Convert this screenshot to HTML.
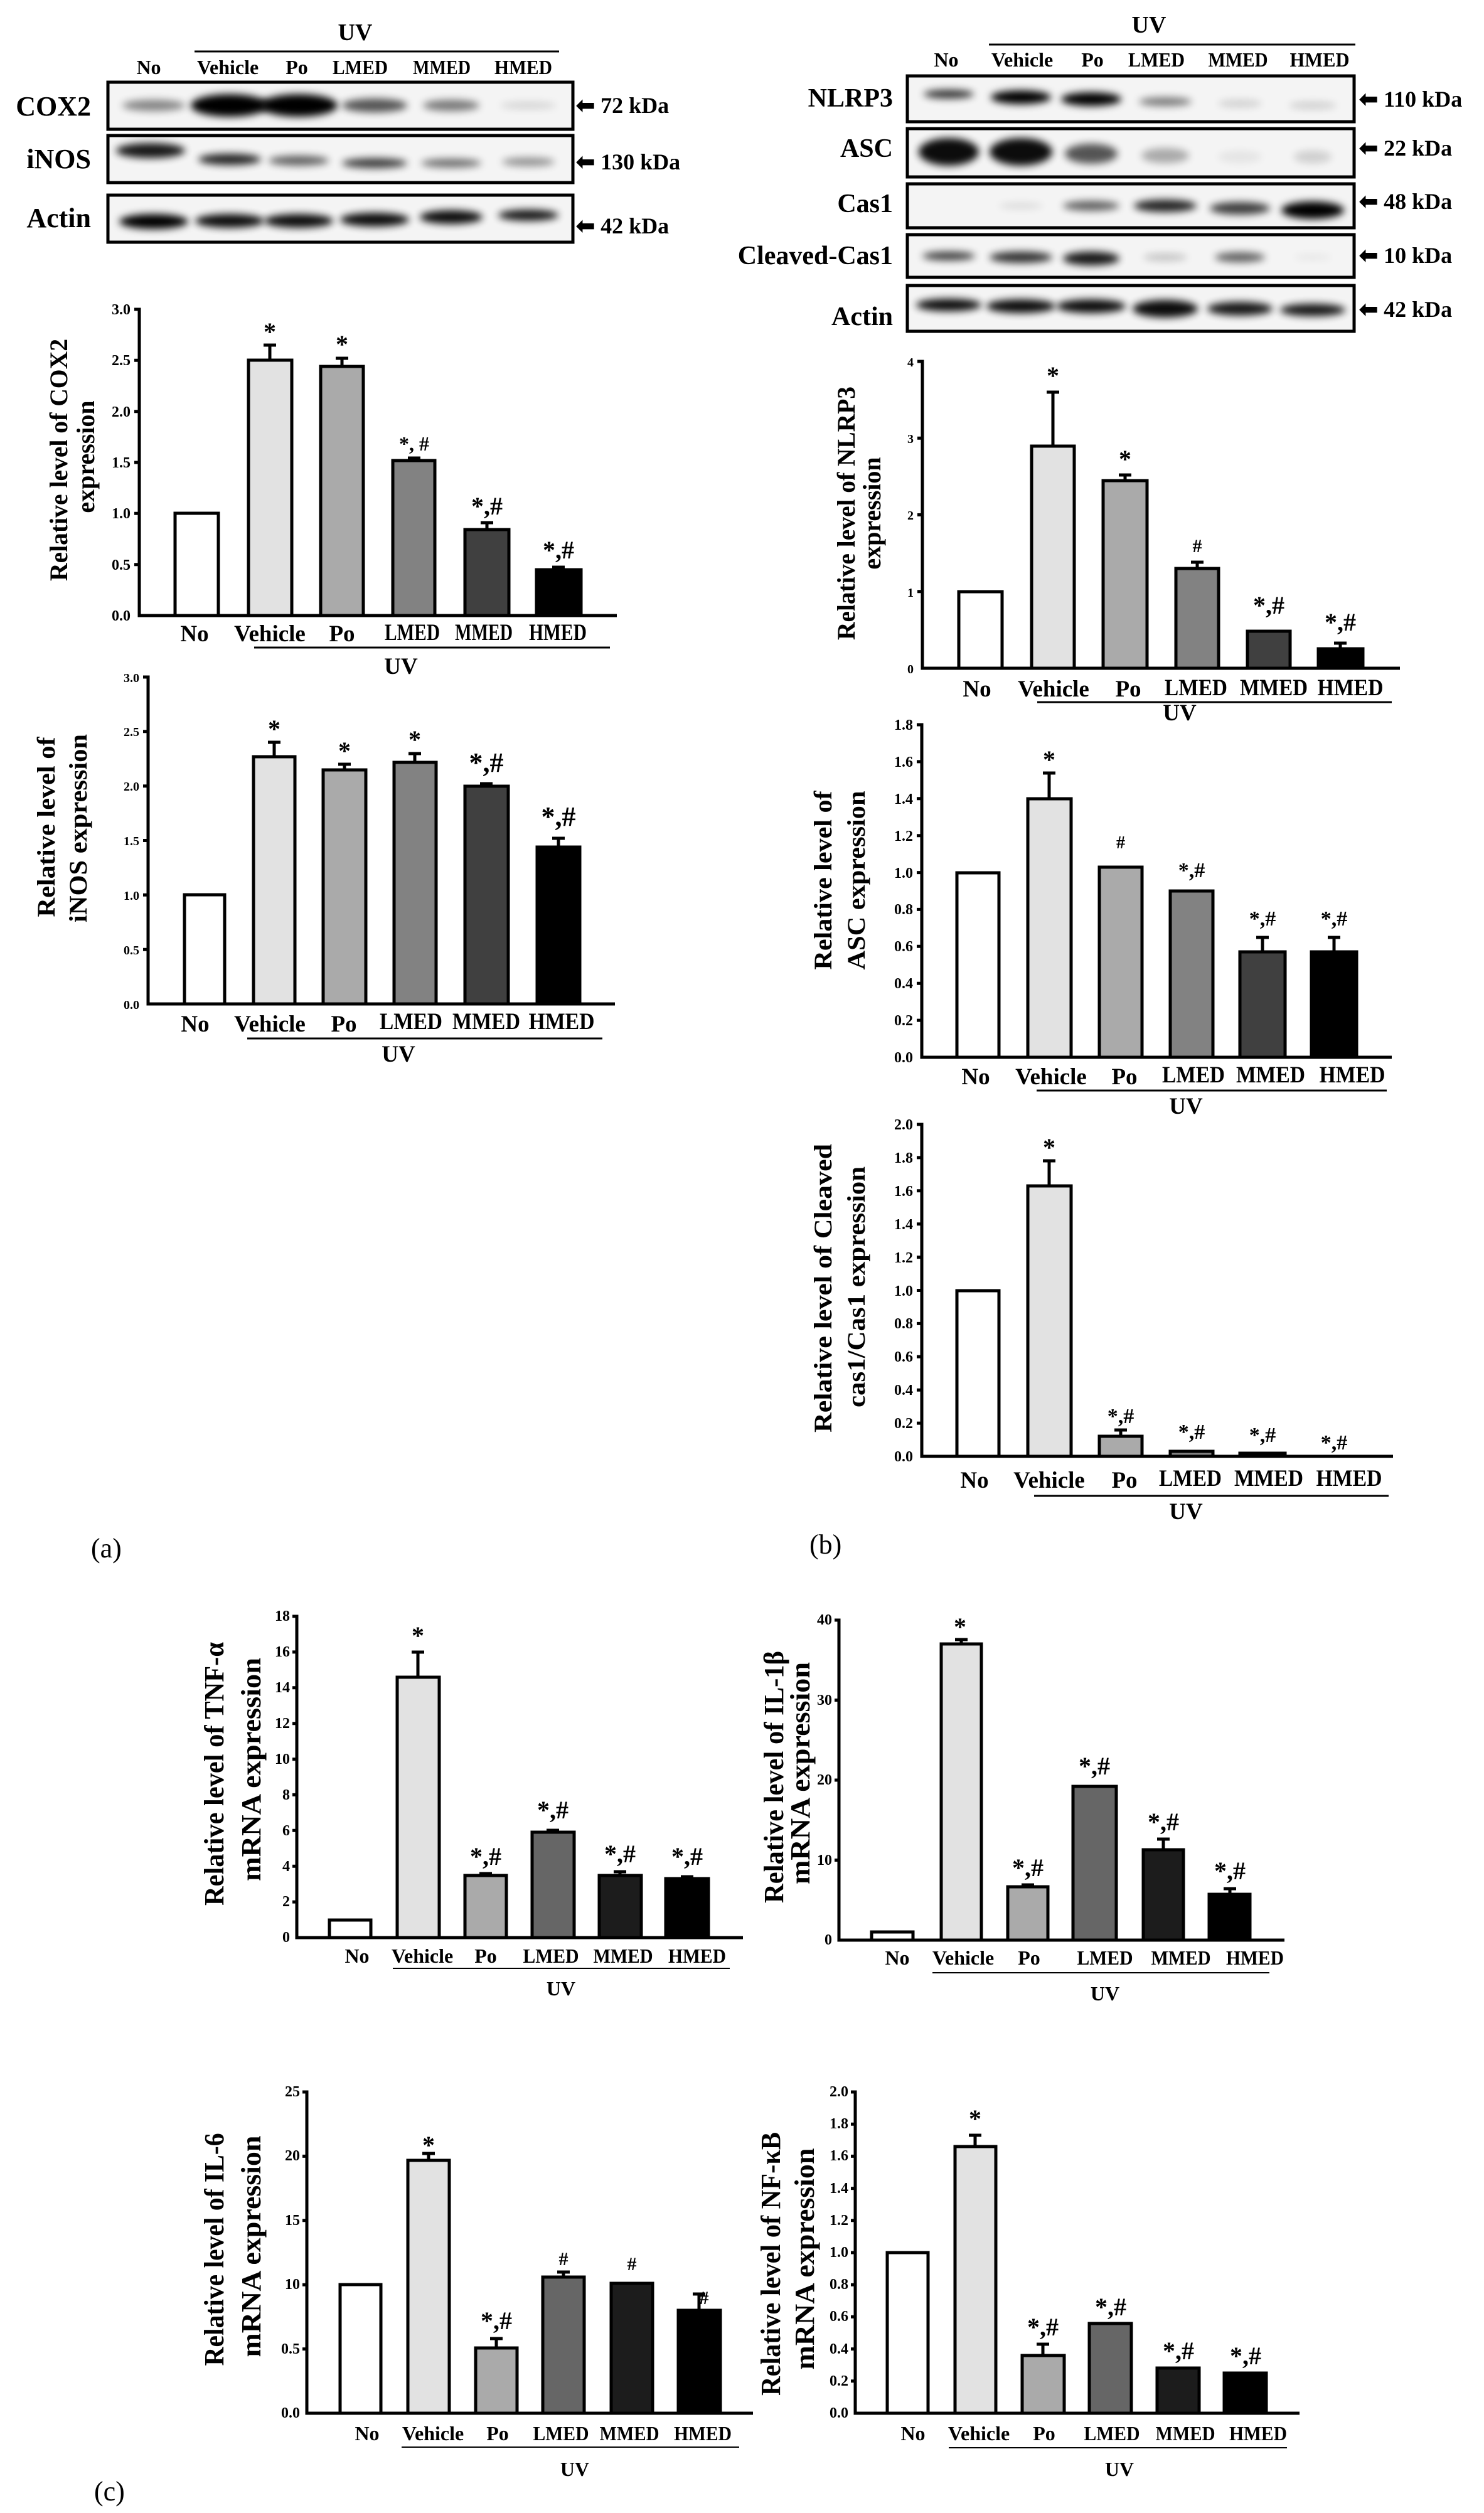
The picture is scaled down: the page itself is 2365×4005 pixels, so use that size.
<!DOCTYPE html>
<html><head><meta charset="utf-8">
<style>
html,body{margin:0;padding:0;background:#fff;}
svg{display:block;}
text{font-family:"Liberation Serif",serif;font-weight:bold;fill:#000;}
.tk{font-size:24px;text-anchor:end;}
.xl{font-size:37px;text-anchor:middle;}
.an{font-size:40px;text-anchor:middle;}
.yl{font-size:40px;text-anchor:middle;}
.bl{font-size:44px;text-anchor:end;}
.ln{font-size:32px;text-anchor:middle;}
.kd{font-size:36px;}
.ax{fill:none;stroke:#000;stroke-width:5;}
.bar{stroke:#000;stroke-width:5;}
.eb{stroke:#000;stroke-width:5;fill:none;}
.c0{fill:#fff}.c1{fill:#e2e2e2}.c2{fill:#aaa}.c3{fill:#828282}.c4{fill:#404040}.c5{fill:#000}
.d3{fill:#666}.d4{fill:#1c1c1c}
.box{fill:#f4f4f4;stroke:#000;stroke-width:5;}
.band{fill:#000;filter:url(#bl);}
</style></head><body>
<svg width="2365" height="4005" viewBox="0 0 2365 4005" xmlns="http://www.w3.org/2000/svg">
<defs><filter id="bl" x="-50%" y="-100%" width="200%" height="300%"><feGaussianBlur stdDeviation="6"/></filter></defs>

<!-- ===== LEFT BLOT ===== -->
<text class="ln" x="566" y="64" style="font-size:38px">UV</text>
<line x1="310" y1="82" x2="891" y2="82" stroke="#000" stroke-width="3"/>
<text class="ln" x="237" y="118">No</text><text class="ln" x="363" y="118">Vehicle</text><text class="ln" x="473" y="118">Po</text><text class="ln" x="574" y="118" textLength="88" lengthAdjust="spacingAndGlyphs">LMED</text><text class="ln" x="704" y="118" textLength="92" lengthAdjust="spacingAndGlyphs">MMED</text><text class="ln" x="834" y="118" textLength="92" lengthAdjust="spacingAndGlyphs">HMED</text>
<rect class="box" x="172" y="131" width="741" height="75"/>
<rect class="box" x="172" y="216" width="741" height="75"/>
<rect class="box" x="172" y="311" width="741" height="75"/>
<g>
<ellipse class="band" cx="245" cy="168" rx="50" ry="9" opacity=".45"/>
<ellipse class="band" cx="366" cy="168" rx="62" ry="18" opacity="1"/>
<ellipse class="band" cx="476" cy="168" rx="62" ry="18" opacity="1"/>
<ellipse class="band" cx="597" cy="168" rx="52" ry="11" opacity=".65"/>
<ellipse class="band" cx="719" cy="168" rx="45" ry="9" opacity=".5"/>
<ellipse class="band" cx="842" cy="168" rx="45" ry="6" opacity=".12"/>
<ellipse class="band" cx="240" cy="240" rx="55" ry="12" opacity=".9"/>
<ellipse class="band" cx="366" cy="254" rx="50" ry="9" opacity=".85"/>
<ellipse class="band" cx="476" cy="256" rx="48" ry="8" opacity=".6"/>
<ellipse class="band" cx="597" cy="260" rx="52" ry="8" opacity=".75"/>
<ellipse class="band" cx="719" cy="260" rx="48" ry="7" opacity=".55"/>
<ellipse class="band" cx="842" cy="258" rx="42" ry="7" opacity=".4"/>
<ellipse class="band" cx="245" cy="353" rx="55" ry="12" opacity="1"/>
<ellipse class="band" cx="366" cy="352" rx="55" ry="11" opacity=".95"/>
<ellipse class="band" cx="476" cy="352" rx="55" ry="11" opacity=".95"/>
<ellipse class="band" cx="597" cy="350" rx="55" ry="11" opacity=".95"/>
<ellipse class="band" cx="719" cy="346" rx="50" ry="11" opacity=".95"/>
<ellipse class="band" cx="842" cy="343" rx="48" ry="9" opacity=".9"/>
</g>
<text class="bl" x="145" y="184">COX2</text>
<text class="bl" x="145" y="268">iNOS</text>
<text class="bl" x="145" y="362">Actin</text>
<text class="kd" x="918" y="180">⬅ 72 kDa</text>
<text class="kd" x="918" y="270">⬅ 130 kDa</text>
<text class="kd" x="918" y="372">⬅ 42 kDa</text>

<!-- ===== RIGHT BLOT ===== -->
<text class="ln" x="1831" y="52" style="font-size:38px">UV</text>
<line x1="1576" y1="71" x2="2160" y2="71" stroke="#000" stroke-width="3"/>
<text class="ln" x="1508" y="106">No</text><text class="ln" x="1629" y="106">Vehicle</text><text class="ln" x="1741" y="106">Po</text><text class="ln" x="1843" y="106" textLength="90" lengthAdjust="spacingAndGlyphs">LMED</text><text class="ln" x="1973" y="106" textLength="95" lengthAdjust="spacingAndGlyphs">MMED</text><text class="ln" x="2103" y="106" textLength="95" lengthAdjust="spacingAndGlyphs">HMED</text>
<rect class="box" x="1446" y="121" width="712" height="73"/>
<rect class="box" x="1446" y="205" width="712" height="77"/>
<rect class="box" x="1446" y="293" width="712" height="70"/>
<rect class="box" x="1446" y="374" width="712" height="68"/>
<rect class="box" x="1446" y="455" width="712" height="73"/>
<g>
<ellipse class="band" cx="1512" cy="150" rx="40" ry="7" opacity=".8"/>
<ellipse class="band" cx="1627" cy="155" rx="48" ry="11" opacity="1"/>
<ellipse class="band" cx="1739" cy="158" rx="48" ry="11" opacity="1"/>
<ellipse class="band" cx="1857" cy="162" rx="42" ry="7" opacity=".5"/>
<ellipse class="band" cx="1976" cy="165" rx="35" ry="6" opacity=".15"/>
<ellipse class="band" cx="2092" cy="168" rx="38" ry="6" opacity=".15"/>
<ellipse class="band" cx="1512" cy="242" rx="48" ry="22" opacity=".95"/>
<ellipse class="band" cx="1627" cy="242" rx="50" ry="22" opacity=".95"/>
<ellipse class="band" cx="1739" cy="245" rx="42" ry="16" opacity=".65"/>
<ellipse class="band" cx="1857" cy="248" rx="38" ry="12" opacity=".3"/>
<ellipse class="band" cx="1976" cy="250" rx="35" ry="10" opacity=".06"/>
<ellipse class="band" cx="2092" cy="250" rx="30" ry="10" opacity=".15"/>
<ellipse class="band" cx="1627" cy="328" rx="35" ry="5" opacity=".1"/>
<ellipse class="band" cx="1739" cy="328" rx="45" ry="8" opacity=".6"/>
<ellipse class="band" cx="1857" cy="328" rx="50" ry="10" opacity=".85"/>
<ellipse class="band" cx="1976" cy="332" rx="48" ry="10" opacity=".75"/>
<ellipse class="band" cx="2092" cy="335" rx="50" ry="14" opacity="1"/>
<ellipse class="band" cx="1512" cy="408" rx="42" ry="7" opacity=".75"/>
<ellipse class="band" cx="1627" cy="410" rx="50" ry="9" opacity=".8"/>
<ellipse class="band" cx="1739" cy="412" rx="45" ry="11" opacity=".9"/>
<ellipse class="band" cx="1857" cy="410" rx="35" ry="6" opacity=".2"/>
<ellipse class="band" cx="1976" cy="410" rx="40" ry="8" opacity=".6"/>
<ellipse class="band" cx="2092" cy="410" rx="30" ry="5" opacity=".05"/>
<ellipse class="band" cx="1512" cy="486" rx="52" ry="10" opacity=".95"/>
<ellipse class="band" cx="1627" cy="488" rx="55" ry="11" opacity=".95"/>
<ellipse class="band" cx="1739" cy="488" rx="55" ry="11" opacity=".95"/>
<ellipse class="band" cx="1857" cy="492" rx="52" ry="14" opacity=".95"/>
<ellipse class="band" cx="1976" cy="492" rx="52" ry="11" opacity=".9"/>
<ellipse class="band" cx="2092" cy="494" rx="52" ry="10" opacity=".9"/>
</g>
<text class="bl" x="1423" y="170" style="font-size:42px">NLRP3</text>
<text class="bl" x="1423" y="250" style="font-size:42px">ASC</text>
<text class="bl" x="1423" y="338" style="font-size:42px">Cas1</text>
<text class="bl" x="1423" y="421" style="font-size:42px">Cleaved-Cas1</text>
<text class="bl" x="1423" y="518" style="font-size:42px">Actin</text>
<text class="kd" x="2166" y="170">⬅ 110 kDa</text>
<text class="kd" x="2166" y="248">⬅ 22 kDa</text>
<text class="kd" x="2166" y="333">⬅ 48 kDa</text>
<text class="kd" x="2166" y="419">⬅ 10 kDa</text>
<text class="kd" x="2166" y="505">⬅ 42 kDa</text>

<!-- ===== COX2 CHART ===== -->
<g>
<text class="yl" transform="translate(107,733) rotate(-90)" textLength="386" lengthAdjust="spacingAndGlyphs">Relative level of COX2</text>
<text class="yl" transform="translate(150,728) rotate(-90)">expression</text>
<path class="ax" d="M214 493H222V981H983 M214 574.3H222 M214 655.7H222 M214 737H222 M214 818.3H222 M214 899.7H222"/>
<text class="tk" x="208" y="501">3.0</text><text class="tk" x="208" y="582">2.5</text><text class="tk" x="208" y="664">2.0</text><text class="tk" x="208" y="745">1.5</text><text class="tk" x="208" y="826">1.0</text><text class="tk" x="208" y="908">0.5</text><text class="tk" x="208" y="989">0.0</text>
<rect class="bar c0" x="279" y="818" width="69" height="163"/>
<rect class="bar c1" x="396" y="574" width="69" height="407"/>
<rect class="bar c2" x="511" y="584" width="68" height="397"/>
<rect class="bar c3" x="626" y="734" width="67" height="247"/>
<rect class="bar c4" x="741" y="844" width="70" height="137"/>
<rect class="bar c5" x="855" y="908" width="71" height="73"/>
<path class="eb" d="M430 574V550M420 550H440 M545 584V571M535 571H555 M660 734V730M650 730H670 M776 844V833M766 833H786 M890 908V904M880 904H900"/>
<text class="an" x="430" y="542">*</text><text class="an" x="545" y="562">*</text><text class="an" x="660" y="718" style="font-size:32px">*, #</text><text class="an" x="776" y="820">*,#</text><text class="an" x="890" y="890">*,#</text>
<text class="xl" x="310" y="1022">No</text><text class="xl" x="430" y="1022">Vehicle</text><text class="xl" x="545" y="1022">Po</text><text class="xl" x="657" y="1020" textLength="88" lengthAdjust="spacingAndGlyphs">LMED</text><text class="xl" x="771" y="1020" textLength="92" lengthAdjust="spacingAndGlyphs">MMED</text><text class="xl" x="889" y="1020" textLength="92" lengthAdjust="spacingAndGlyphs">HMED</text>
<line x1="405" y1="1032" x2="972" y2="1032" stroke="#000" stroke-width="3"/>
<text class="xl" x="639" y="1074">UV</text>
</g>

<!-- ===== iNOS CHART ===== -->
<g>
<text class="yl" transform="translate(87,1318) rotate(-90)" textLength="287" lengthAdjust="spacingAndGlyphs">Relative level of</text>
<text class="yl" transform="translate(138,1320) rotate(-90)" textLength="300" lengthAdjust="spacingAndGlyphs">iNOS expression</text>
<path class="ax" d="M228 1079H236V1600H980 M228 1165.8H236 M228 1252.7H236 M228 1339.5H236 M228 1426.3H236 M228 1513.2H236"/>
<text class="tk" x="222" y="1087" style="font-size:20px">3.0</text><text class="tk" x="222" y="1173" style="font-size:20px">2.5</text><text class="tk" x="222" y="1260" style="font-size:20px">2.0</text><text class="tk" x="222" y="1347" style="font-size:20px">1.5</text><text class="tk" x="222" y="1434" style="font-size:20px">1.0</text><text class="tk" x="222" y="1521" style="font-size:20px">0.5</text><text class="tk" x="222" y="1608" style="font-size:20px">0.0</text>
<rect class="bar c0" x="294" y="1426" width="64" height="174"/>
<rect class="bar c1" x="404" y="1206" width="66" height="394"/>
<rect class="bar c2" x="515" y="1227" width="68" height="373"/>
<rect class="bar c3" x="628" y="1215" width="67" height="385"/>
<rect class="bar c4" x="741" y="1253" width="69" height="347"/>
<rect class="bar c5" x="856" y="1350" width="68" height="250"/>
<path class="eb" d="M437 1206V1183M427 1183H447 M549 1227V1218M539 1218H559 M661 1215V1201M651 1201H671 M775 1253V1249M765 1249H785 M890 1350V1336M880 1336H900"/>
<text class="an" x="437" y="1175">*</text><text class="an" x="549" y="1210">*</text><text class="an" x="661" y="1192">*</text><text class="an" x="775" y="1230" style="font-size:44px">*,#</text><text class="an" x="890" y="1316" style="font-size:44px">*,#</text>
<text class="xl" x="311" y="1644">No</text><text class="xl" x="430" y="1644">Vehicle</text><text class="xl" x="548" y="1644">Po</text><text class="xl" x="655" y="1640" textLength="100" lengthAdjust="spacingAndGlyphs">LMED</text><text class="xl" x="775" y="1640" textLength="108" lengthAdjust="spacingAndGlyphs">MMED</text><text class="xl" x="895" y="1640" textLength="105" lengthAdjust="spacingAndGlyphs">HMED</text>
<line x1="394" y1="1655" x2="960" y2="1655" stroke="#000" stroke-width="3"/>
<text class="xl" x="635" y="1692">UV</text>
</g>
<text x="145" y="2482" style="font-size:44px;font-weight:normal">(a)</text>

<!-- ===== NLRP3 CHART ===== -->
<g>
<text class="yl" transform="translate(1362,818) rotate(-90)" textLength="404" lengthAdjust="spacingAndGlyphs">Relative level of NLRP3</text>
<text class="yl" transform="translate(1403,818) rotate(-90)">expression</text>
<path class="ax" d="M1462 576H1470V1065H2231 M1462 698.3H1470 M1462 820.5H1470 M1462 942.8H1470"/>
<text class="tk" x="1456" y="584" style="font-size:20px">4</text><text class="tk" x="1456" y="706" style="font-size:20px">3</text><text class="tk" x="1456" y="828" style="font-size:20px">2</text><text class="tk" x="1456" y="951" style="font-size:20px">1</text><text class="tk" x="1456" y="1073" style="font-size:20px">0</text>
<rect class="bar c0" x="1528" y="943" width="69" height="122"/>
<rect class="bar c1" x="1644" y="711" width="68" height="354"/>
<rect class="bar c2" x="1758" y="766" width="70" height="299"/>
<rect class="bar c3" x="1874" y="906" width="68" height="159"/>
<rect class="bar c4" x="1988" y="1006" width="68" height="59"/>
<rect class="bar c5" x="2101" y="1034" width="71" height="31"/>
<path class="eb" d="M1678 711V625M1668 625H1688 M1793 766V757M1783 757H1803 M1908 906V896M1898 896H1918 M2136 1034V1025M2126 1025H2146"/>
<text class="an" x="1678" y="612">*</text><text class="an" x="1793" y="745">*</text><text class="an" x="1908" y="880" style="font-size:30px">#</text><text class="an" x="2022" y="978">*,#</text><text class="an" x="2136" y="1005">*,#</text>
<text class="xl" x="1557" y="1110">No</text><text class="xl" x="1679" y="1110">Vehicle</text><text class="xl" x="1798" y="1110">Po</text><text class="xl" x="1906" y="1108" textLength="100" lengthAdjust="spacingAndGlyphs">LMED</text><text class="xl" x="2030" y="1108" textLength="108" lengthAdjust="spacingAndGlyphs">MMED</text><text class="xl" x="2152" y="1108" textLength="105" lengthAdjust="spacingAndGlyphs">HMED</text>
<line x1="1653" y1="1119" x2="2218" y2="1119" stroke="#000" stroke-width="3"/>
<text class="xl" x="1880" y="1148">UV</text>
</g>

<!-- ===== ASC CHART ===== -->
<g>
<text class="yl" transform="translate(1325,1403) rotate(-90)" textLength="285" lengthAdjust="spacingAndGlyphs">Relative level of</text>
<text class="yl" transform="translate(1378,1403) rotate(-90)" textLength="285" lengthAdjust="spacingAndGlyphs">ASC expression</text>
<path class="ax" d="M1461 1155H1469V1685H2218 M1461 1213.9H1469 M1461 1272.8H1469 M1461 1331.7H1469 M1461 1390.6H1469 M1461 1449.4H1469 M1461 1508.3H1469 M1461 1567.2H1469 M1461 1626.1H1469"/>
<text class="tk" x="1455" y="1163">1.8</text><text class="tk" x="1455" y="1222">1.6</text><text class="tk" x="1455" y="1281">1.4</text><text class="tk" x="1455" y="1340">1.2</text><text class="tk" x="1455" y="1399">1.0</text><text class="tk" x="1455" y="1457">0.8</text><text class="tk" x="1455" y="1516">0.6</text><text class="tk" x="1455" y="1575">0.4</text><text class="tk" x="1455" y="1634">0.2</text><text class="tk" x="1455" y="1693">0.0</text>
<rect class="bar c0" x="1525" y="1391" width="67" height="294"/>
<rect class="bar c1" x="1638" y="1273" width="69" height="412"/>
<rect class="bar c2" x="1752" y="1382" width="68" height="303"/>
<rect class="bar c3" x="1865" y="1420" width="68" height="265"/>
<rect class="bar c4" x="1976" y="1517" width="72" height="168"/>
<rect class="bar c5" x="2090" y="1517" width="72" height="168"/>
<path class="eb" d="M1672 1273V1232M1662 1232H1682 M2012 1517V1494M2002 1494H2022 M2126 1517V1494M2116 1494H2136"/>
<text class="an" x="1672" y="1224">*</text><text class="an" x="1786" y="1352" style="font-size:28px">#</text><text class="an" x="1899" y="1398" style="font-size:34px">*,#</text><text class="an" x="2012" y="1475" style="font-size:34px">*,#</text><text class="an" x="2126" y="1475" style="font-size:34px">*,#</text>
<text class="xl" x="1555" y="1728">No</text><text class="xl" x="1675" y="1728">Vehicle</text><text class="xl" x="1792" y="1728">Po</text><text class="xl" x="1902" y="1725" textLength="100" lengthAdjust="spacingAndGlyphs">LMED</text><text class="xl" x="2025" y="1725" textLength="110" lengthAdjust="spacingAndGlyphs">MMED</text><text class="xl" x="2155" y="1725" textLength="105" lengthAdjust="spacingAndGlyphs">HMED</text>
<line x1="1652" y1="1738" x2="2210" y2="1738" stroke="#000" stroke-width="3"/>
<text class="xl" x="1890" y="1775">UV</text>
</g>

<!-- ===== CLEAVED CHART ===== -->
<g>
<text class="yl" transform="translate(1325,2053) rotate(-90)" textLength="460" lengthAdjust="spacingAndGlyphs">Relative level of  Cleaved</text>
<text class="yl" transform="translate(1378,2051) rotate(-90)" textLength="384" lengthAdjust="spacingAndGlyphs">cas1/Cas1 expression</text>
<path class="ax" d="M1461 1792H1469V2321H2220 M1461 1844.9H1469 M1461 1897.8H1469 M1461 1950.7H1469 M1461 2003.6H1469 M1461 2056.5H1469 M1461 2109.4H1469 M1461 2162.3H1469 M1461 2215.2H1469 M1461 2268.1H1469"/>
<text class="tk" x="1455" y="1800">2.0</text><text class="tk" x="1455" y="1853">1.8</text><text class="tk" x="1455" y="1906">1.6</text><text class="tk" x="1455" y="1959">1.4</text><text class="tk" x="1455" y="2012">1.2</text><text class="tk" x="1455" y="2065">1.0</text><text class="tk" x="1455" y="2117">0.8</text><text class="tk" x="1455" y="2170">0.6</text><text class="tk" x="1455" y="2223">0.4</text><text class="tk" x="1455" y="2276">0.2</text><text class="tk" x="1455" y="2329">0.0</text>
<rect class="bar c0" x="1525" y="2057" width="67" height="264"/>
<rect class="bar c1" x="1638" y="1890" width="69" height="431"/>
<rect class="bar c2" x="1752" y="2289" width="68" height="32"/>
<rect class="bar c3" x="1865" y="2313" width="68" height="8"/>
<rect class="bar c4" x="1976" y="2316" width="72" height="5"/>
<path class="eb" d="M1672 1890V1850M1662 1850H1682 M1786 2289V2279M1776 2279H1796"/>
<text class="an" x="1672" y="1842">*</text><text class="an" x="1786" y="2268" style="font-size:34px">*,#</text><text class="an" x="1899" y="2293" style="font-size:34px">*,#</text><text class="an" x="2012" y="2298" style="font-size:34px">*,#</text><text class="an" x="2126" y="2310" style="font-size:34px">*,#</text>
<text class="xl" x="1553" y="2371">No</text><text class="xl" x="1672" y="2371">Vehicle</text><text class="xl" x="1792" y="2371">Po</text><text class="xl" x="1897" y="2368" textLength="100" lengthAdjust="spacingAndGlyphs">LMED</text><text class="xl" x="2022" y="2368" textLength="110" lengthAdjust="spacingAndGlyphs">MMED</text><text class="xl" x="2150" y="2368" textLength="105" lengthAdjust="spacingAndGlyphs">HMED</text>
<line x1="1648" y1="2384" x2="2213" y2="2384" stroke="#000" stroke-width="3"/>
<text class="xl" x="1890" y="2421">UV</text>
</g>
<text x="1290" y="2476" style="font-size:44px;font-weight:normal">(b)</text>

<!-- ===== TNF CHART ===== -->
<g>
<text class="yl" transform="translate(356,2827) rotate(-90)" textLength="420" lengthAdjust="spacingAndGlyphs" style="font-size:44px">Relative level of TNF-α</text>
<text class="yl" transform="translate(415,2820) rotate(-90)" textLength="356" lengthAdjust="spacingAndGlyphs" style="font-size:44px">mRNA expression</text>
<path class="ax" d="M466 2576H473V3088H1184 M466 2632.9H473 M466 2689.8H473 M466 2746.7H473 M466 2803.6H473 M466 2860.4H473 M466 2917.3H473 M466 2974.2H473 M466 3031.1H473"/>
<g style="font-size:20px"><text class="tk" x="462" y="2583">18</text><text class="tk" x="462" y="2640">16</text><text class="tk" x="462" y="2697">14</text><text class="tk" x="462" y="2754">12</text><text class="tk" x="462" y="2811">10</text><text class="tk" x="462" y="2868">8</text><text class="tk" x="462" y="2925">6</text><text class="tk" x="462" y="2982">4</text><text class="tk" x="462" y="3038">2</text><text class="tk" x="462" y="3095">0</text></g>
<rect class="bar c0" x="525" y="3060" width="66" height="28"/>
<rect class="bar c1" x="633" y="2673" width="67" height="415"/>
<rect class="bar c2" x="741" y="2989" width="66" height="99"/>
<rect class="bar d3" x="848" y="2920" width="67" height="168"/>
<rect class="bar d4" x="955" y="2989" width="67" height="99"/>
<rect class="bar c5" x="1061" y="2994" width="68" height="94"/>
<path class="eb" d="M666 2673V2633M656 2633H676 M774 2989V2986M764 2986H784 M881 2920V2917M871 2917H891 M988 2989V2983M978 2983H998 M1095 2994V2991M1085 2991H1105"/>
<text class="an" x="666" y="2620">*</text><text class="an" x="774" y="2972">*,#</text><text class="an" x="881" y="2898">*,#</text><text class="an" x="988" y="2968">*,#</text><text class="an" x="1095" y="2972">*,#</text>
<text class="xl" x="569" y="3128" style="font-size:32px">No</text><text class="xl" x="673" y="3128" style="font-size:32px">Vehicle</text><text class="xl" x="774" y="3128" style="font-size:32px">Po</text><text class="xl" x="878" y="3128" style="font-size:32px" textLength="89" lengthAdjust="spacingAndGlyphs">LMED</text><text class="xl" x="993" y="3128" style="font-size:32px" textLength="95" lengthAdjust="spacingAndGlyphs">MMED</text><text class="xl" x="1111" y="3128" style="font-size:32px" textLength="92" lengthAdjust="spacingAndGlyphs">HMED</text>
<line x1="626" y1="3137" x2="1163" y2="3137" stroke="#000" stroke-width="2"/>
<text class="xl" x="894" y="3180" style="font-size:32px">UV</text>
</g>

<!-- ===== IL-1b CHART ===== -->
<g>
<text class="yl" transform="translate(1248,2832) rotate(-90)" textLength="402" lengthAdjust="spacingAndGlyphs" style="font-size:44px">Relative level of IL-1β</text>
<text class="yl" transform="translate(1290,2826) rotate(-90)" textLength="354" lengthAdjust="spacingAndGlyphs" style="font-size:44px">mRNA expression</text>
<path class="ax" d="M1330 2582H1337V3092H2047 M1330 2709.5H1337 M1330 2837H1337 M1330 2964.5H1337"/>
<g style="font-size:20px"><text class="tk" x="1326" y="2589">40</text><text class="tk" x="1326" y="2717">30</text><text class="tk" x="1326" y="2844">20</text><text class="tk" x="1326" y="2972">10</text><text class="tk" x="1326" y="3099">0</text></g>
<rect class="bar c0" x="1389" y="3079" width="66" height="13"/>
<rect class="bar c1" x="1500" y="2620" width="64" height="472"/>
<rect class="bar c2" x="1606" y="3007" width="64" height="85"/>
<rect class="bar d3" x="1710" y="2847" width="69" height="245"/>
<rect class="bar d4" x="1822" y="2948" width="64" height="144"/>
<rect class="bar c5" x="1927" y="3019" width="65" height="73"/>
<path class="eb" d="M1532 2620V2613M1522 2613H1542 M1638 3007V3004M1628 3004H1648 M1854 2948V2931M1844 2931H1864 M1960 3019V3010M1950 3010H1970"/>
<text class="an" x="1530" y="2606">*</text><text class="an" x="1638" y="2990">*,#</text><text class="an" x="1744" y="2828">*,#</text><text class="an" x="1854" y="2917">*,#</text><text class="an" x="1960" y="2995">*,#</text>
<text class="xl" x="1430" y="3131" style="font-size:32px">No</text><text class="xl" x="1535" y="3131" style="font-size:32px">Vehicle</text><text class="xl" x="1640" y="3131" style="font-size:32px">Po</text><text class="xl" x="1761" y="3131" style="font-size:32px" textLength="89" lengthAdjust="spacingAndGlyphs">LMED</text><text class="xl" x="1882" y="3131" style="font-size:32px" textLength="95" lengthAdjust="spacingAndGlyphs">MMED</text><text class="xl" x="2000" y="3131" style="font-size:32px" textLength="92" lengthAdjust="spacingAndGlyphs">HMED</text>
<line x1="1486" y1="3144" x2="2023" y2="3144" stroke="#000" stroke-width="2"/>
<text class="xl" x="1761" y="3188" style="font-size:32px">UV</text>
</g>

<!-- ===== IL-6 CHART ===== -->
<g>
<text class="yl" transform="translate(356,3585) rotate(-90)" textLength="371" lengthAdjust="spacingAndGlyphs" style="font-size:44px">Relative level of IL-6</text>
<text class="yl" transform="translate(415,3580) rotate(-90)" textLength="353" lengthAdjust="spacingAndGlyphs" style="font-size:44px">mRNA expression</text>
<path class="ax" d="M482 3334H489V3846H1200 M482 3436.4H489 M482 3538.8H489 M482 3641.2H489 M482 3743.6H489"/>
<g style="font-size:20px"><text class="tk" x="478" y="3341">25</text><text class="tk" x="478" y="3443">20</text><text class="tk" x="478" y="3546">15</text><text class="tk" x="478" y="3648">10</text><text class="tk" x="478" y="3751">0.5</text><text class="tk" x="478" y="3853">0.0</text></g>
<rect class="bar c0" x="542" y="3641" width="65" height="205"/>
<rect class="bar c1" x="650" y="3443" width="66" height="403"/>
<rect class="bar c2" x="758" y="3742" width="66" height="104"/>
<rect class="bar d3" x="865" y="3629" width="66" height="217"/>
<rect class="bar d4" x="974" y="3639" width="66" height="207"/>
<rect class="bar c5" x="1081" y="3682" width="67" height="164"/>
<path class="eb" d="M683 3443V3432M673 3432H693 M791 3742V3727M781 3727H801 M898 3629V3621M888 3621H908 M1114 3682V3656M1104 3656H1124"/>
<text class="an" x="683" y="3432">*</text><text class="an" x="791" y="3712">*,#</text><text class="an" x="898" y="3610" style="font-size:30px">#</text><text class="an" x="1007" y="3618" style="font-size:30px">#</text><text class="an" x="1122" y="3672" style="font-size:30px">#</text>
<text class="xl" x="585" y="3889" style="font-size:32px">No</text><text class="xl" x="690" y="3889" style="font-size:32px">Vehicle</text><text class="xl" x="793" y="3889" style="font-size:32px">Po</text><text class="xl" x="894" y="3889" style="font-size:32px" textLength="89" lengthAdjust="spacingAndGlyphs">LMED</text><text class="xl" x="1003" y="3889" style="font-size:32px" textLength="95" lengthAdjust="spacingAndGlyphs">MMED</text><text class="xl" x="1120" y="3889" style="font-size:32px" textLength="92" lengthAdjust="spacingAndGlyphs">HMED</text>
<line x1="640" y1="3900" x2="1178" y2="3900" stroke="#000" stroke-width="2"/>
<text class="xl" x="916" y="3946" style="font-size:32px">UV</text>
</g>

<!-- ===== NF-kB CHART ===== -->
<g>
<text class="yl" transform="translate(1243,3608) rotate(-90)" textLength="420" lengthAdjust="spacingAndGlyphs" style="font-size:44px">Relative level of NF-κB</text>
<text class="yl" transform="translate(1297,3600) rotate(-90)" textLength="353" lengthAdjust="spacingAndGlyphs" style="font-size:44px">mRNA expression</text>
<path class="ax" d="M1356 3334H1363V3846H2071 M1356 3385.2H1363 M1356 3436.4H1363 M1356 3487.6H1363 M1356 3538.8H1363 M1356 3590H1363 M1356 3641.2H1363 M1356 3692.4H1363 M1356 3743.6H1363 M1356 3794.8H1363"/>
<g style="font-size:20px"><text class="tk" x="1352" y="3341">2.0</text><text class="tk" x="1352" y="3392">1.8</text><text class="tk" x="1352" y="3443">1.6</text><text class="tk" x="1352" y="3495">1.4</text><text class="tk" x="1352" y="3546">1.2</text><text class="tk" x="1352" y="3597">1.0</text><text class="tk" x="1352" y="3648">0.8</text><text class="tk" x="1352" y="3699">0.6</text><text class="tk" x="1352" y="3751">0.4</text><text class="tk" x="1352" y="3802">0.2</text><text class="tk" x="1352" y="3853">0.0</text></g>
<rect class="bar c0" x="1414" y="3590" width="65" height="256"/>
<rect class="bar c1" x="1522" y="3421" width="65" height="425"/>
<rect class="bar c2" x="1629" y="3754" width="67" height="92"/>
<rect class="bar d3" x="1736" y="3703" width="67" height="143"/>
<rect class="bar d4" x="1844" y="3774" width="67" height="72"/>
<rect class="bar c5" x="1951" y="3782" width="67" height="64"/>
<path class="eb" d="M1554 3421V3403M1544 3403H1564 M1662 3754V3736M1652 3736H1672 M1770 3703V3701M1878 3774V3772"/>
<text class="an" x="1554" y="3390">*</text><text class="an" x="1662" y="3722">*,#</text><text class="an" x="1770" y="3690">*,#</text><text class="an" x="1878" y="3760">*,#</text><text class="an" x="1985" y="3768">*,#</text>
<text class="xl" x="1455" y="3889" style="font-size:32px">No</text><text class="xl" x="1560" y="3889" style="font-size:32px">Vehicle</text><text class="xl" x="1664" y="3889" style="font-size:32px">Po</text><text class="xl" x="1772" y="3889" style="font-size:32px" textLength="89" lengthAdjust="spacingAndGlyphs">LMED</text><text class="xl" x="1889" y="3889" style="font-size:32px" textLength="95" lengthAdjust="spacingAndGlyphs">MMED</text><text class="xl" x="2005" y="3889" style="font-size:32px" textLength="92" lengthAdjust="spacingAndGlyphs">HMED</text>
<line x1="1512" y1="3901" x2="2051" y2="3901" stroke="#000" stroke-width="2"/>
<text class="xl" x="1784" y="3946" style="font-size:32px">UV</text>
</g>
<text x="150" y="3985" style="font-size:44px;font-weight:normal">(c)</text>
</svg>
</body></html>
